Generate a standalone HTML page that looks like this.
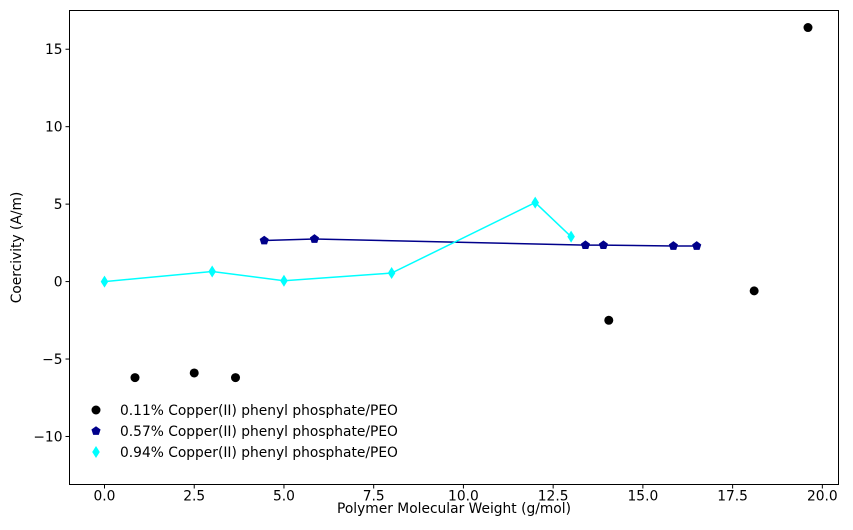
<!DOCTYPE html>
<html><head><meta charset="utf-8"><style>
body{margin:0;background:#fff;}
svg text{font-family:"DejaVu Sans","Liberation Sans",sans-serif;font-size:13.8px;fill:#000;}
</style></head><body>
<svg id="chart" width="853" height="525" xmlns="http://www.w3.org/2000/svg"></svg>
<script>
const blackX=[0.85,2.5,3.65,14.05,18.1,19.6];
const blackY=[-6.2,-5.9,-6.2,-2.5,-0.6,16.4];
const navyX=[4.45,5.85,13.4,13.9,15.85,16.5];
const navyY=[2.65,2.75,2.35,2.35,2.3,2.3];
const cyanX=[0,3,5,8,12,13];
const cyanY=[0,0.65,0.05,0.55,5.1,2.9];
const xTicks=[0,2.5,5,7.5,10,12.5,15,17.5,20];
const xTickLabels=["0.0","2.5","5.0","7.5","10.0","12.5","15.0","17.5","20.0"];
const yTicks=[-10,-5,0,5,10,15];
const yTickLabels=["−10","−5","0","5","10","15"];
const legendLabels=["0.11% Copper(II) phenyl phosphate/PEO","0.57% Copper(II) phenyl phosphate/PEO","0.94% Copper(II) phenyl phosphate/PEO"];

const L=69.5,R=838.5,T=10.5,B=484.5;
const xMin=-0.975,xMax=20.45,yMin=-13.1,yMax=17.5;
const sx=v=>L+(v-xMin)/(xMax-xMin)*(R-L);
const sy=v=>B-(v-yMin)/(yMax-yMin)*(B-T);
const svg=document.getElementById('chart');
const NS='http://www.w3.org/2000/svg';
function mk(tag,attrs,parent){const e=document.createElementNS(NS,tag);for(const k in attrs)e.setAttribute(k,attrs[k]);(parent||svg).appendChild(e);return e;}

const frame=mk('rect',{x:L,y:T,width:R-L,height:B-T,fill:'none',stroke:'#000','stroke-width':1});



const xg=mk('g',{});


xTicks.forEach((t,i)=>{
  mk('line',{x1:sx(t),x2:sx(t),y1:B,y2:B+4,stroke:'#000'},xg);
  const tx=mk('text',{x:sx(t),y:B+16,'text-anchor':'middle'},xg);tx.textContent=xTickLabels[i];
  
  
});
const yg=mk('g',{});


yTicks.forEach((t,i)=>{
  mk('line',{x1:L-4,x2:L,y1:sy(t),y2:sy(t),stroke:'#000'},yg);
  const tx=mk('text',{x:L-7,y:sy(t)+5,'text-anchor':'end'},yg);tx.textContent=yTickLabels[i];
  
  
});
const xt=mk('text',{x:(L+R)/2,y:513,'text-anchor':'middle'});xt.textContent='Polymer Molecular Weight (g/mol)';


const yt=mk('text',{x:21,y:(T+B)/2,'text-anchor':'middle',transform:`rotate(-90 21 ${(T+B)/2})`});yt.textContent='Coercivity (A/m)';



function circle(x,y,c,p){return mk('circle',{cx:x,cy:y,r:4.5,fill:c},p);}
function pent(x,y,c,p){let pts=[];for(let k=0;k<5;k++){const a=-Math.PI/2+k*2*Math.PI/5;pts.push((x+4.8*Math.cos(a))+','+(y+4.8*Math.sin(a)));}return mk('polygon',{points:pts.join(' '),fill:c},p);}
function diam(x,y,c,p){return mk('polygon',{points:`${x},${y-6} ${x+3.8},${y} ${x},${y+6} ${x-3.8},${y}`,fill:c},p);}

const g1=mk('g',{});


blackX.forEach((v,i)=>{const m=circle(sx(v),sy(blackY[i]),'#000',g1);
  
  });

const g2=mk('g',{});


mk('polyline',{points:navyX.map((v,i)=>sx(v)+','+sy(navyY[i])).join(' '),fill:'none',stroke:'#00008b','stroke-width':1.5},g2);
navyX.forEach((v,i)=>{const m=pent(sx(v),sy(navyY[i]),'#00008b',g2);
  
  });

const g3=mk('g',{});


mk('polyline',{points:cyanX.map((v,i)=>sx(v)+','+sy(cyanY[i])).join(' '),fill:'none',stroke:'#00ffff','stroke-width':1.5},g3);
cyanX.forEach((v,i)=>{const m=diam(sx(v),sy(cyanY[i]),'#00ffff',g3);
  
  });

const lg=mk('g',{});


const markers=[circle,pent,diam],cols=['#000','#00008b','#00ffff'];
legendLabels.forEach((s,i)=>{
  const y=410+i*21;
  markers[i](96,y,cols[i],lg);
  const tx=mk('text',{x:120,y:y+5},lg);tx.textContent=s;
  
  
});
</script>
</body></html>
